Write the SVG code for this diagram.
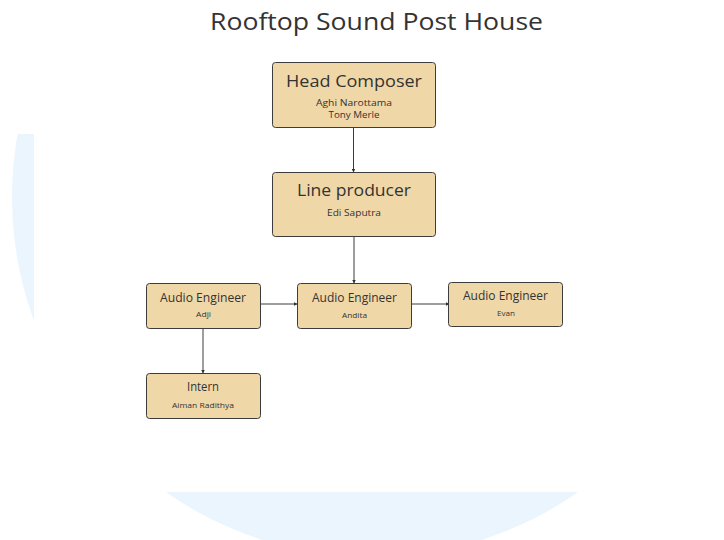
<svg xmlns="http://www.w3.org/2000/svg" width="724" height="540" viewBox="0 0 724 540">
<defs>
<marker id="ah" markerWidth="4" markerHeight="4" refX="3.5" refY="2" orient="auto" markerUnits="userSpaceOnUse">
<path d="M0,0 L4,2 L0,4 Z" fill="#333"/>
</marker>
</defs>
<style>
.box{fill:#F0D7A8;stroke:#3c3c3c;stroke-width:1}
text{font-family:"Open Sans","Liberation Sans",sans-serif;fill:#333;text-anchor:middle}
.t1{font-size:17px}
.t2{font-size:12px}
.s1{font-size:8.5px}
.s2{font-size:7.5px}
.edge{stroke:#3c3c3c;stroke-width:1;fill:none;marker-end:url(#ah)}
</style>
<rect width="724" height="540" fill="#fff"/>
<g id="background">
<circle cx="372" cy="197" r="360" fill="#EBF5FD"/>
<rect x="0" y="0" width="724" height="134" fill="#fff"/>
<rect x="34" y="134" width="690" height="358" fill="#fff"/>
</g>
<text id="title" x="376.5" y="30" style="font-size:24px" textLength="333" lengthAdjust="spacingAndGlyphs">Rooftop Sound Post House</text>
<g id="connectors">
<line class="edge" x1="353.5" y1="127" x2="353.5" y2="172"/>
<line class="edge" x1="354" y1="237" x2="354" y2="283"/>
<line class="edge" x1="260" y1="304" x2="297" y2="304"/>
<line class="edge" x1="411" y1="304" x2="449" y2="304"/>
<line class="edge" x1="203" y1="328" x2="203" y2="373"/>
</g>
<g id="head-composer">
<rect class="box" x="272.5" y="62.5" width="163" height="65" rx="3"/>
<text class="t1" x="354" y="87" textLength="136" lengthAdjust="spacingAndGlyphs">Head Composer</text>
<text class="s1" x="354" y="106" textLength="76" lengthAdjust="spacingAndGlyphs">Aghi Narottama</text>
<text class="s1" x="354" y="118" textLength="51" lengthAdjust="spacingAndGlyphs">Tony Merle</text>
</g>
<g id="line-producer">
<rect class="box" x="272.5" y="172.5" width="163" height="64" rx="3"/>
<text class="t1" x="354" y="196" textLength="114" lengthAdjust="spacingAndGlyphs">Line producer</text>
<text class="s1" x="354" y="216" textLength="54" lengthAdjust="spacingAndGlyphs">Edi Saputra</text>
</g>
<g id="audio-adji">
<rect class="box" x="146.5" y="283.5" width="114" height="45" rx="3"/>
<text class="t2" x="203" y="302" textLength="86" lengthAdjust="spacingAndGlyphs">Audio Engineer</text>
<text class="s2" x="203.5" y="317" textLength="15" lengthAdjust="spacingAndGlyphs">Adji</text>
</g>
<g id="audio-andita">
<rect class="box" x="297.5" y="283.5" width="114" height="45" rx="3"/>
<text class="t2" x="354.5" y="302" textLength="85" lengthAdjust="spacingAndGlyphs">Audio Engineer</text>
<text class="s2" x="354.5" y="318" textLength="25" lengthAdjust="spacingAndGlyphs">Andita</text>
</g>
<g id="audio-evan">
<rect class="box" x="448.5" y="282.5" width="114" height="44" rx="3"/>
<text class="t2" x="505.5" y="300" textLength="85" lengthAdjust="spacingAndGlyphs">Audio Engineer</text>
<text class="s2" x="506" y="316" textLength="18" lengthAdjust="spacingAndGlyphs">Evan</text>
</g>
<g id="intern">
<rect class="box" x="146.5" y="373.5" width="114" height="45" rx="3"/>
<text class="t2" x="203" y="391" textLength="32" lengthAdjust="spacingAndGlyphs">Intern</text>
<text class="s2" x="203" y="408" textLength="62" lengthAdjust="spacingAndGlyphs">Aiman Radithya</text>
</g>
</svg>
